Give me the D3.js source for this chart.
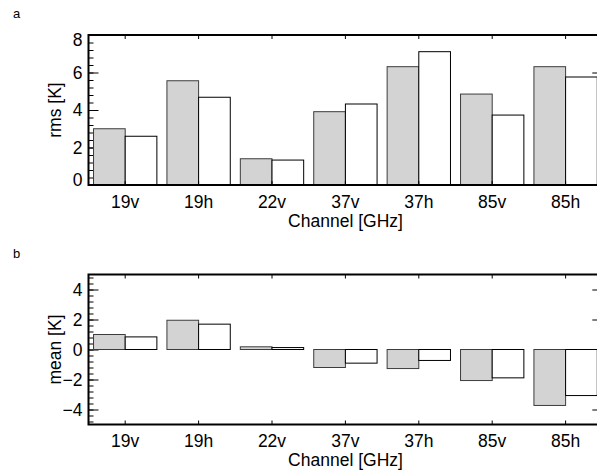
<!DOCTYPE html>
<html>
<head>
<meta charset="utf-8">
<script src="https://cdn.jsdelivr.net/npm/d3@7"></script>
<style>
  html, body { margin: 0; padding: 0; background: #fff; }
  svg { display: block; font-family: "Liberation Sans", Arial, Helvetica, sans-serif; }
</style>
</head>
<body>
<svg id="chart" width="597" height="471"></svg>
<script>
// Channels and the two statistics (grey = first set, white = second set)
const channels = ["19v", "19h", "22v", "37v", "37h", "85v", "85h"];
const rmsGrey  = [3.0, 5.56, 1.40, 3.91, 6.31, 4.85, 6.31];
const rmsWhite = [2.6, 4.68, 1.33, 4.32, 7.11, 3.73, 5.76];
const meanGrey  = [1.0, 1.95, 0.18, -1.20, -1.27, -2.07, -3.73];
const meanWhite = [0.84, 1.69, 0.13, -0.91, -0.73, -1.89, -3.07];
const rmsTicks = [0, 2, 4, 6, 8];
const meanTicks = [-4, -2, 0, 2, 4];

const svg = d3.select("#chart");
const left = 88.5, right = 602.3;
const FS = 17.5;

const x = d3.scaleBand().domain(channels).range([left, right]).padding(0);
const groupW = x.bandwidth() * 0.863;
const sub = d3.scaleBand().domain(["grey", "white"])
  .range([(x.bandwidth() - groupW) / 2, (x.bandwidth() + groupW) / 2]).padding(0);

function panel(cfg) {
  const g = svg.append("g");
  const y = d3.scaleLinear().domain(cfg.domain).range([cfg.bottom, cfg.top]);

  // minor ticks every 0.4 on left and right
  const minor = d3.range(Math.ceil(cfg.domain[0] / 0.4 - 1e-9), Math.floor(cfg.domain[1] / 0.4 + 1e-9) + 1)
    .map(k => +(k * 0.4).toFixed(2));
  g.append("g").attr("transform", `translate(${left},0)`)
    .call(d3.axisLeft(y).tickValues(minor).tickSize(-5).tickFormat(""))
    .call(s => s.select(".domain").remove());
  g.append("g").attr("transform", `translate(${right},0)`)
    .call(d3.axisRight(y).tickValues(minor).tickSize(-5).tickFormat(""))
    .call(s => s.select(".domain").remove());

  // major ticks with labels on the left
  const ax = g.append("g").attr("transform", `translate(${left},0)`)
    .call(d3.axisLeft(y).tickValues(cfg.labels).tickSize(-10).tickPadding(6)
      .tickFormat(d3.format("d")));
  ax.select(".domain").remove();
  ax.selectAll("text").attr("font-size", FS).attr("font-family", null)
    .attr("dy", d => d === cfg.domain[1] ? "0.62em" : d === cfg.domain[0] ? "0.02em" : "0.32em");
  g.append("g").attr("transform", `translate(${right},0)`)
    .call(d3.axisRight(y).tickValues(cfg.labels).tickSize(-10).tickFormat(""))
    .call(s => s.select(".domain").remove());

  // bars
  const rows = channels.map((c, i) => ({ c, grey: cfg.grey[i], white: cfg.white[i] }));
  const bars = g.append("g");
  rows.forEach(r => {
    bars.append("rect")
      .attr("x", x(r.c) + sub("grey")).attr("width", sub.bandwidth())
      .attr("y", Math.min(y(r.grey), y(0))).attr("height", Math.abs(y(r.grey) - y(0)))
      .attr("fill", "#d3d3d3").attr("stroke", "#3c3c3c").attr("stroke-width", 1);
    bars.append("rect")
      .attr("x", x(r.c) + sub("white")).attr("width", sub.bandwidth())
      .attr("y", Math.min(y(r.white), y(0))).attr("height", Math.abs(y(r.white) - y(0)))
      .attr("fill", "#fff").attr("stroke", "#000").attr("stroke-width", 1);
  });

  // top and bottom category ticks
  g.append("g").attr("transform", `translate(0,${cfg.top})`)
    .call(d3.axisTop(x).tickSize(-4).tickFormat(""))
    .call(s => s.select(".domain").remove());
  const bx = g.append("g").attr("transform", `translate(0,${cfg.bottom})`)
    .call(d3.axisBottom(x).tickSize(-4).tickPadding(10.5));
  bx.select(".domain").remove();
  bx.selectAll("text").attr("font-size", FS).attr("font-family", null);

  // frame
  g.append("rect").attr("x", left).attr("y", cfg.top)
    .attr("width", right - left).attr("height", cfg.bottom - cfg.top)
    .attr("fill", "none").attr("stroke", "#000").attr("stroke-width", 2);

  // titles
  g.append("text").attr("x", 345.5).attr("y", cfg.bottom + 41.7)
    .attr("text-anchor", "middle").attr("font-size", FS).text("Channel [GHz]");
  g.append("text")
    .attr("transform", `translate(55,${(cfg.top + cfg.bottom) / 2}) rotate(-90)`)
    .attr("text-anchor", "middle").attr("dy", "0.35em").attr("font-size", FS)
    .text(cfg.ytitle);
  g.append("text").attr("x", 13).attr("y", cfg.top - 16.7)
    .attr("font-size", 13).text(cfg.tag);
}

panel({ tag: "a", ytitle: "rms [K]", domain: [0, 8], top: 35, bottom: 185,
        labels: rmsTicks, grey: rmsGrey, white: rmsWhite });
panel({ tag: "b", ytitle: "mean [K]", domain: [-5, 5], top: 274.5, bottom: 424.5,
        labels: meanTicks, grey: meanGrey, white: meanWhite });
</script>
</body>
</html>
